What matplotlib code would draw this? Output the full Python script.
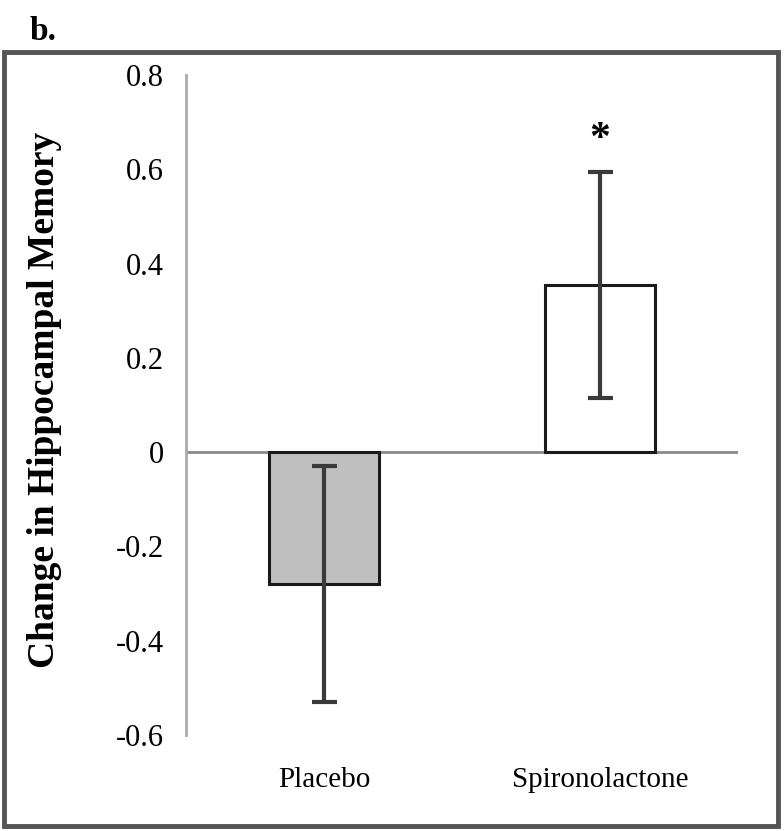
import matplotlib
matplotlib.use('Agg')
import matplotlib.pyplot as plt
from matplotlib.patches import Rectangle

# data
groups = ['Placebo', 'Spironolactone']
means = [-0.28, 0.355]
errs = [0.25, 0.24]
colors = ['#c0c0c0', '#ffffff']
yticks = [-0.6, -0.4, -0.2, 0, 0.2, 0.4, 0.6, 0.8]
ytick_labels = ['-0.6', '-0.4', '-0.2', '0', '0.2', '0.4', '0.6', '0.8']

plt.rcParams['font.family'] = ['Liberation Serif', 'DejaVu Serif']

W, H = 784, 831
fig = plt.figure(figsize=(W / 100, H / 100), dpi=100)
ax = fig.add_axes([186 / W, 1 - 735 / H, (738 - 186) / W, (735 - 75) / H])

x = range(len(groups))
ax.bar(x, means, width=0.4, color=colors, edgecolor='#1a1a1a', linewidth=2.2, zorder=2)
ax.errorbar(x, means, yerr=errs, fmt='none', ecolor='#3a3a3a', elinewidth=3,
            capsize=9, capthick=3, zorder=3)

# significance marker
ax.text(1, means[1] + errs[1] + 0.045, '*', ha='center', va='baseline',
        fontsize=30, fontweight='bold')

ax.axhline(0, color='#8a8a8a', linewidth=2, zorder=1)
ax.set_xlim(-0.5, 1.5)
ax.set_ylim(-0.6, 0.8)
ax.set_yticks(yticks)
ax.set_yticklabels(ytick_labels)
ax.set_xticks(list(x))
ax.set_xticklabels(groups)
ax.tick_params(axis='y', length=0, pad=16, labelsize=22)
ax.tick_params(axis='x', length=0, pad=23, labelsize=21)
for s in ['top', 'right', 'bottom']:
    ax.spines[s].set_visible(False)
ax.spines['left'].set_color('#aaaaaa')
ax.spines['left'].set_linewidth(2)
ax.set_ylabel('Change in Hippocampal Memory', fontsize=27, fontweight='bold')
ax.yaxis.set_label_coords(-124 / 552, (735 - 400) / 660)

# outer frame and panel letter
fig.patches.append(Rectangle((4 / W, 1 - 826 / H), (778 - 4) / W, (826 - 52) / H,
                             transform=fig.transFigure, fill=False,
                             edgecolor='#555555', linewidth=3.5))
fig.text(30 / W, 1 - 31 / H, 'b.', fontsize=24, fontweight='bold', va='center')

fig.savefig('out.png', dpi=100)
